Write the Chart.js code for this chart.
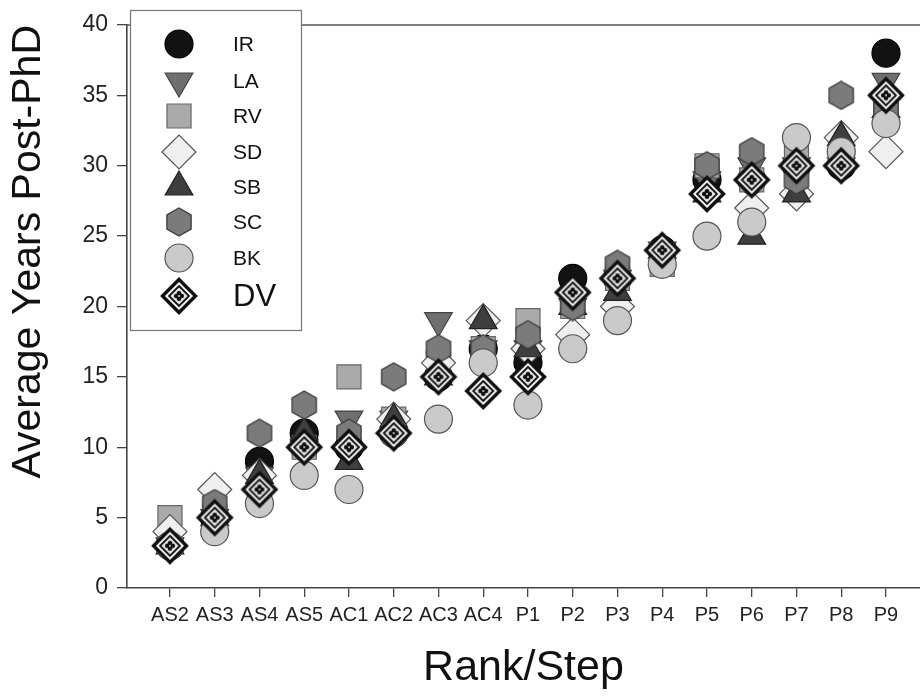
<!DOCTYPE html>
<html>
<head>
<meta charset="utf-8">
<title>Average Years Post-PhD by Rank/Step</title>
<script src="https://cdn.jsdelivr.net/npm/chart.js@4.4.1/dist/chart.umd.min.js"></script>
<style>
    html, body { margin: 0; padding: 0; background: #fff; }
    #chart { display: block; }
</style>
</head>
<body>
<canvas id="chart" width="920" height="696"></canvas>
<script>
// Rank/step categories and the values
const categories = ['AS2', 'AS3', 'AS4', 'AS5', 'AC1', 'AC2', 'AC3', 'AC4', 'P1', 'P2', 'P3', 'P4', 'P5', 'P6', 'P7', 'P8', 'P9'];
const seriesNames = ['IR', 'LA', 'RV', 'SD', 'SB', 'SC', 'BK', 'DV'];

const irValues = [3, 5, 9, 11, 10, 11, 15, 17, 16, 22, 22, 24, 29, 29, 30, 30, 38];
const laValues = [3, 5, 8, 10, 12, 12, 19, 17, 17, 20, 22, 24, 29, 30, 30, 30, 36];
const rvValues = [5, 5, 7, 10, 15, 12, 16, 17, 19, 20, 22, 23, 30, 29, 31, 31, 34];
const sdValues = [4, 7, 8, 10, 10, 12, 16, 19, 17, 18, 20, 24, 28, 27, 28, 32, 31];
const sbValues = [3, 5, 8, 11, 9, 12, 15, 19, 17, 20, 21, 24, 28, 25, 28, 32, 34];
const scValues = [3, 6, 11, 13, 11, 15, 17, 17, 18, 20, 23, 24, 30, 31, 29, 35, 34];
const bkValues = [3, 4, 6, 8, 7, 11, 12, 16, 13, 17, 19, 23, 25, 26, 32, 31, 33];
const dvValues = [3, 5, 7, 10, 10, 11, 15, 14, 15, 21, 22, 24, 28, 29, 30, 30, 35];

const yTicks = [0, 5, 10, 15, 20, 25, 30, 35, 40];

// Custom marker images (hexagon and the DV target diamond)
function makeHexagon(fill, stroke) {
    const c = document.createElement('canvas');
    c.width = 30; c.height = 30;
    const ctx = c.getContext('2d');
    const r = 14;
    ctx.beginPath();
    for (let i = 0; i < 6; i++) {
        const a = Math.PI / 3 * i - Math.PI / 2;
        const px = 15 + r * Math.cos(a);
        const py = 15 + r * Math.sin(a);
        if (i === 0) ctx.moveTo(px, py); else ctx.lineTo(px, py);
    }
    ctx.closePath();
    ctx.fillStyle = fill;
    ctx.fill();
    ctx.lineWidth = 1.3;
    ctx.strokeStyle = stroke;
    ctx.stroke();
    return c;
}

function makeDvMarker() {
    const c = document.createElement('canvas');
    c.width = 40; c.height = 40;
    const ctx = c.getContext('2d');
    const cx = 20, cy = 20;
    function diamond(h) {
        ctx.beginPath();
        ctx.moveTo(cx, cy - h);
        ctx.lineTo(cx + h, cy);
        ctx.lineTo(cx, cy + h);
        ctx.lineTo(cx - h, cy);
        ctx.closePath();
    }
    diamond(16.5);
    ctx.fillStyle = '#f4f4f4';
    ctx.fill();
    ctx.lineWidth = 3.4;
    ctx.strokeStyle = '#111';
    ctx.stroke();
    diamond(10);
    ctx.fillStyle = '#e2e2e2';
    ctx.fill();
    ctx.lineWidth = 1.8;
    ctx.stroke();
    ctx.fillStyle = '#111';
    [[0, -2.8], [2.8, 0], [0, 2.8], [-2.8, 0]].forEach(function(o) {
        ctx.beginPath();
        ctx.arc(cx + o[0], cy + o[1], 2.3, 0, Math.PI * 2);
        ctx.fill();
    });
    ctx.fillStyle = '#bbb';
    ctx.beginPath();
    ctx.arc(cx, cy, 1.1, 0, Math.PI * 2);
    ctx.fill();
    return c;
}

const hexImg = makeHexagon('#7b7b7b', '#3c3c3c');
const dvImg = makeDvMarker();

const seriesValues = [irValues, laValues, rvValues, sdValues, sbValues, scValues, bkValues, dvValues];
const seriesStyles = [
    { pointStyle: 'circle', radius: 14, rotation: 0, fill: '#121212', border: '#000' },
    { pointStyle: 'triangle', radius: 16, rotation: 180, fill: '#6f6f6f', border: '#444' },
    { pointStyle: 'rect', radius: 17, rotation: 0, fill: '#aaaaaa', border: '#666' },
    { pointStyle: 'rectRot', radius: 17, rotation: 0, fill: '#efefef', border: '#555' },
    { pointStyle: 'triangle', radius: 16, rotation: 0, fill: '#3e3e3e', border: '#222' },
    { pointStyle: hexImg, radius: 14, rotation: 0, fill: '#7b7b7b', border: '#3c3c3c' },
    { pointStyle: 'circle', radius: 14, rotation: 0, fill: '#cacaca', border: '#555' },
    { pointStyle: dvImg, radius: 17, rotation: 0, fill: '#fff', border: '#111' }
];

const datasets = seriesNames.map(function(name, i) {
    const s = seriesStyles[i];
    return {
        label: name,
        data: seriesValues[i].map(function(v, j) { return { x: j + 1, y: v }; }),
        showLine: false,
        pointStyle: s.pointStyle,
        pointRadius: s.radius,
        pointHoverRadius: s.radius,
        pointRotation: s.rotation,
        backgroundColor: s.fill,
        borderColor: s.border,
        pointBorderWidth: 1.2,
        order: seriesNames.length - i
    };
});

// Top frame line and the boxed legend
const frameAndLegend = {
    id: 'frameAndLegend',
    afterDatasetsDraw: function(chart) {
        const ctx = chart.ctx;
        const area = chart.chartArea;
        ctx.save();
        ctx.strokeStyle = '#555';
        ctx.lineWidth = 1.5;
        ctx.beginPath();
        ctx.moveTo(area.left, area.top);
        ctx.lineTo(area.right, area.top);
        ctx.stroke();

        // legend box
        const bx = 130, by = 10, bw = 171, bh = 320;
        ctx.fillStyle = '#fff';
        ctx.fillRect(bx, by, bw, bh);
        ctx.strokeStyle = '#777';
        ctx.lineWidth = 1.2;
        ctx.strokeRect(bx + 0.5, by + 0.5, bw, bh);

        const rowY = [44, 81, 116, 152, 187, 222, 258, 296];
        seriesNames.forEach(function(name, i) {
            const s = seriesStyles[i];
            const x = 179, y = rowY[i];
            ctx.fillStyle = s.fill;
            ctx.strokeStyle = s.border;
            ctx.lineWidth = 1.2;
            if (typeof s.pointStyle === 'string') {
                Chart.helpers.drawPoint(ctx, {
                    pointStyle: s.pointStyle,
                    radius: s.radius,
                    rotation: s.rotation,
                    borderWidth: 1.2
                }, x, y);
            } else {
                ctx.drawImage(s.pointStyle, x - s.pointStyle.width / 2, y - s.pointStyle.height / 2);
            }
            ctx.fillStyle = '#111';
            ctx.textAlign = 'left';
            ctx.textBaseline = 'middle';
            ctx.font = (name === 'DV' ? '31px' : '21px') + ' "Liberation Sans", Arial, sans-serif';
            ctx.fillText(name, 233, y + 1);
        });
        ctx.restore();
    }
};

Chart.defaults.font.family = '"Liberation Sans", Arial, sans-serif';
Chart.defaults.color = '#222';

new Chart(document.getElementById('chart'), {
    type: 'scatter',
    data: { datasets: datasets },
    options: {
        responsive: false,
        animation: false,
        layout: {
            autoPadding: false, // big markers would otherwise shrink the plot area
            padding: { top: 25, right: 0, left: 0, bottom: 0 }
        },
        plugins: {
            legend: { display: false },
            tooltip: { enabled: false }
        },
        scales: {
            x: {
                type: 'linear',
                min: 0.04,
                max: 17.76,
                afterBuildTicks: function(scale) {
                    scale.ticks = categories.map(function(c, i) { return { value: i + 1 }; });
                },
                afterFit: function(scale) {
                    scale.height = 108;
                    scale.paddingLeft = 0;
                    scale.paddingRight = 0;
                },
                ticks: {
                    autoSkip: false,
                    maxRotation: 0,
                    padding: 6,
                    font: { size: 20 },
                    callback: function(value) { return categories[value - 1]; }
                },
                grid: { drawOnChartArea: false, tickLength: 9, color: '#444', lineWidth: 1.3 },
                border: { color: '#444', width: 1.6 },
                title: {
                    display: true,
                    text: 'Rank/Step',
                    font: { size: 43, lineHeight: 1.2 },
                    color: '#111',
                    padding: { top: 0, bottom: 2 }
                }
            },
            y: {
                min: 0,
                max: 40,
                afterBuildTicks: function(scale) {
                    scale.ticks = yTicks.map(function(v) { return { value: v }; });
                },
                afterFit: function(scale) {
                    scale.width = 127;
                    scale.paddingTop = 0;
                    scale.paddingBottom = 0;
                },
                ticks: {
                    padding: 9,
                    font: { size: 23 }
                },
                grid: { drawOnChartArea: false, tickLength: 10, color: '#444', lineWidth: 1.3 },
                border: { color: '#444', width: 1.6 },
                title: {
                    display: true,
                    text: 'Average Years Post-PhD',
                    align: 'end',
                    font: { size: 41, lineHeight: 1.2 },
                    color: '#111',
                    padding: { top: 4, bottom: 0 }
                }
            }
        }
    },
    plugins: [frameAndLegend]
});
</script>
</body>
</html>
